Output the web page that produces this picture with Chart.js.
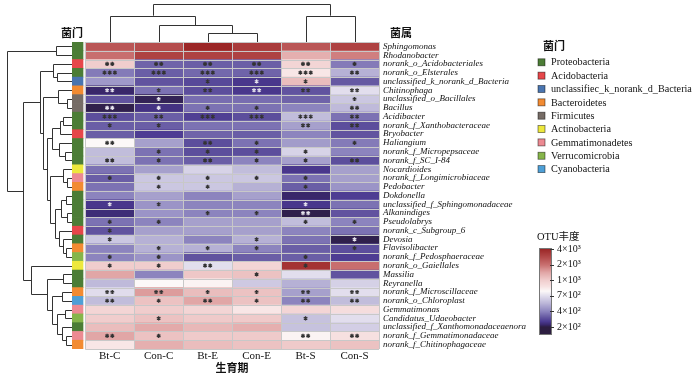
<!DOCTYPE html>
<html><head><meta charset="utf-8">
<script src="https://cdn.jsdelivr.net/npm/chart.js@4.4.0/dist/chart.umd.min.js"></script>
<style>html,body{margin:0;padding:0;background:#fff;}canvas{display:block;}</style>
</head><body>
<canvas id="c" width="700" height="376"></canvas>
<script>
// ---------- data ----------
const genera = ['Sphingomonas','Rhodanobacter','norank_o_Acidobacteriales','norank_o_Elsterales','unclassified_k_norank_d_Bacteria','Chitinophaga','unclassified_o_Bacillales','Bacillus','Acidibacter','norank_f_Xanthobacteraceae','Bryobacter','Haliangium','norank_f_Micropepsaceae','norank_f_SC_I-84','Nocardioides','norank_f_Longimicrobiaceae','Pedobacter','Dokdonella','unclassified_f_Sphingomonadaceae','Alkanindiges','Pseudolabrys','norank_c_Subgroup_6','Devosia','Flavisolibacter','norank_f_Pedosphaeraceae','norank_o_Gaiellales','Massilia','Reyranella','norank_f_Microscillaceae','norank_o_Chloroplast','Gemmatimonas','Candidatus_Udaeobacter','unclassified_f_Xanthomonadaceaenora','norank_f_Gemmatimonadaceae','norank_f_Chitinophagaceae'];
const phyla = ['Proteobacteria','Acidobacteria','unclassifiec_k_norank_d_Bacteria','Bacteroidetes','Firmicutes','Actinobacteria','Gemmatimonadetes','Verrucomicrobia','Cyanobacteria'];
const phylumColors = ['#4c7d36','#e6474a','#4a75b0','#f28b32','#766c66','#ede83d','#ec8a92','#86b54a','#4e9fd6'];
const rowPhylum = [0,0,1,0,2,3,4,4,0,0,1,0,0,0,5,6,3,0,0,0,0,1,0,3,7,5,0,0,3,8,6,7,0,6,3];
const columns = ['Bt-C','Con-C','Bt-E','Con-E','Bt-S','Con-S'];

const btC  = [2500,2000,1000,380,450,220,300,205,290,320,320,780,560,560,360,320,360,400,250,230,360,300,600,400,400,1000,1400,550,690,560,950,1000,1150,1400,850];
const conC = [2700,3000,330,320,300,360,210,240,320,320,260,470,360,360,470,600,600,470,440,440,400,470,520,520,440,1000,400,780,1500,1100,1000,1100,1350,1100,1300];
const btE  = [4000,3000,320,340,280,290,350,360,265,360,330,290,290,320,650,600,600,400,400,400,470,470,400,520,300,700,1050,800,1150,1400,950,1030,1200,1030,1150];
const conE = [3200,3000,320,330,250,250,350,360,290,360,320,360,290,400,560,600,520,470,400,400,470,470,520,400,320,950,1100,610,1100,1100,850,1030,1300,1030,1100];
const btS  = [2500,1300,950,850,1150,300,330,400,560,470,400,460,650,470,250,360,320,220,250,205,560,400,360,320,320,3500,700,520,470,400,950,580,580,800,1030];
const conS = [3000,1800,380,520,310,700,600,550,360,290,300,380,400,290,470,470,440,260,360,300,400,360,205,290,260,2000,300,640,700,560,900,700,630,880,1100];

const starsBtC  = ['','','**','***','','**','','**','***','*','','**','','**','','*','','','*','','*','*','*','','*','*','','','**','**','','','','**',''];
const starsConC = ['','','**','***','','*','*','*','**','*','','','*','*','','*','*','','*','','*','','','*','*','*','','','**','*','','*','','*',''];
const starsBtE  = ['','','**','***','*','**','','*','***','','','**','*','**','','*','*','','','*','','','','*','','**','','','*','**','','','','',''];
const starsConE = ['','','**','***','*','**','','*','***','','','*','*','*','','*','','','','*','','','*','*','','','*','','*','*','','','','',''];
const starsBtS  = ['','','**','***','*','**','','','***','**','','','*','*','','*','*','','*','**','*','','','','*','*','','','**','**','','*','','**',''];
const starsConS = ['','','*','**','','**','*','**','**','**','','*','','**','','','','','','','*','','*','*','','','','','**','**','','','','**',''];

const colorTicks = [4000,2000,1000,700,400,200];
const colorTickLabels = ['4×10³','2×10³','1×10³','7×10²','4×10²','2×10²'];

// dendrograms: [height, left, right], leaves are indices
const colTree = [37.7, [26.3, 0, [17, 1, [8.7, 2, 3]]], [26.3, 4, 5]];
const rowTree = [65, [16, 0, 1],
  [49,
    [32,
      [19, 2, [15, 3, 4]],
      [29,
        [14, 5, [5, 6, 7]],
        [25,
          [20, [12, [9, 8, 9], 10], [13, 11, [7, 12, 13]]],
          [22, [9, 14, [5, 15, 16]], [17, [11, [6, 17, 18], [5, 19, 20]], [13, 21, [9, 22, [6, 23, 24]]]]]
        ]
      ]
    ],
    [41, 25, [25, [9, 26, 27], [20, [10, 28, 29], [15, [7, 30, 31], [10, 32, [6, 33, 34]]]]]]
  ]
];

const values = [btC, conC, btE, conE, btS, conS];
const stars = [starsBtC, starsConC, starsBtE, starsConE, starsBtS, starsConS];

// ---------- colour scale ----------
const asc = colorTicks.slice().reverse();
function valueToP(v){
  if (v <= asc[0]) return Math.log(v/asc[0])/Math.log(asc[1]/asc[0]);
  for (let i=0;i<asc.length-1;i++){
    if (v <= asc[i+1]) return i + Math.log(v/asc[i])/Math.log(asc[i+1]/asc[i]);
  }
  const n = asc.length-1;
  return n + Math.log(v/asc[n])/Math.log(asc[n]/asc[n-1]);
}
const stops = [
  [0,[45,30,65]],[0.15,[58,40,110]],[0.35,[75,58,145]],[0.6,[98,85,160]],[1.0,[140,132,190]],
  [1.5,[185,180,215]],[2.0,[226,222,237]],[2.3,[252,248,248]],[2.6,[247,226,226]],[3.0,[240,205,205]],
  [3.5,[225,165,165]],[4.0,[200,110,110]],[4.5,[178,72,72]],[5.0,[155,38,38]]
];
function pToColor(p){
  if (p <= stops[0][0]) return 'rgb('+stops[0][1].join(',')+')';
  for (let i=0;i<stops.length-1;i++){
    const [p0,c0]=stops[i],[p1,c1]=stops[i+1];
    if (p <= p1){
      const t=(p-p0)/(p1-p0);
      return 'rgb('+c0.map((c,k)=>Math.round(c+(c1[k]-c)*t)).join(',')+')';
    }
  }
  return 'rgb('+stops[stops.length-1][1].join(',')+')';
}
const valueColor = v => pToColor(valueToP(v));

// ---------- datasets ----------
const SIDE_FROM = -0.27, SIDE_TO = -0.045;
const datasets = [{
  data: genera.map(()=>[SIDE_FROM, SIDE_TO]),
  backgroundColor: rowPhylum.map(k=>phylumColors[k])
}];
values.forEach((col,j)=>{
  datasets.push({ data: col.map(()=>[j, j+1]), backgroundColor: col.map(valueColor) });
});

const SERIF = '"Liberation Serif", "Times New Roman", serif';
const CJK = '"Noto Sans CJK SC", sans-serif';

const decor = {
  id:'decor',
  afterDatasetsDraw(chart){
    const {ctx, chartArea:ca, scales:{x,y}} = chart;
    const n = genera.length;
    const rowH = (ca.bottom-ca.top)/n;
    const x0 = x.getPixelForValue(0), xN = x.getPixelForValue(columns.length);
    ctx.save();
    // cell borders
    ctx.strokeStyle='#c8c8c8'; ctx.lineWidth=1;
    ctx.beginPath();
    for (let j=0;j<=columns.length;j++){ const px=Math.round(x.getPixelForValue(j))+0.5; ctx.moveTo(px,ca.top); ctx.lineTo(px,ca.bottom); }
    for (let i=0;i<=n;i++){ const py=Math.round(ca.top+i*rowH)+0.5; ctx.moveTo(x0,py); ctx.lineTo(xN,py); }
    ctx.stroke();
    // stars
    values.forEach((col,j)=>{
      const cx = x.getPixelForValue(j+0.5);
      col.forEach((v,i)=>{
        const s = stars[j][i]; if(!s) return;
        const cy = y.getPixelForValue(i);
        ctx.strokeStyle = v < 255 ? '#e6e4ee' : '#333';
        ctx.lineWidth = 1.25;
        const k = s.length, gap = 5.2;
        for (let m=0;m<k;m++){
          const sx = cx - (k-1)*gap/2 + m*gap, r=2.1;
          ctx.beginPath();
          for (let a=0;a<3;a++){
            const ang = Math.PI/2 + a*Math.PI/3;
            ctx.moveTo(sx+r*Math.cos(ang), cy+r*Math.sin(ang));
            ctx.lineTo(sx-r*Math.cos(ang), cy-r*Math.sin(ang));
          }
          ctx.stroke();
        }
      });
    });
    // dendrograms
    ctx.strokeStyle='#333'; ctx.lineWidth=1;
    const topBase = ca.top;
    function colLayout(node){
      if (typeof node==='number') return {p:x.getPixelForValue(node+0.5), h:0};
      const [h,a,b]=node; const A=colLayout(a), B=colLayout(b);
      ctx.beginPath();
      ctx.moveTo(Math.round(A.p)+0.5, topBase-A.h); ctx.lineTo(Math.round(A.p)+0.5, Math.round(topBase-h)+0.5);
      ctx.lineTo(Math.round(B.p)+0.5, Math.round(topBase-h)+0.5); ctx.lineTo(Math.round(B.p)+0.5, topBase-B.h);
      ctx.stroke();
      return {p:(A.p+B.p)/2, h};
    }
    colLayout(colTree);
    const leftBase = x.getPixelForValue(SIDE_FROM);
    function rowLayout(node){
      if (typeof node==='number') return {p:y.getPixelForValue(node), h:0};
      const [h,a,b]=node; const A=rowLayout(a), B=rowLayout(b);
      const xx = Math.round(leftBase-h)+0.5;
      ctx.beginPath();
      ctx.moveTo(leftBase-A.h, Math.round(A.p)+0.5); ctx.lineTo(xx, Math.round(A.p)+0.5);
      ctx.lineTo(xx, Math.round(B.p)+0.5); ctx.lineTo(leftBase-B.h, Math.round(B.p)+0.5);
      ctx.stroke();
      return {p:(A.p+B.p)/2, h};
    }
    rowLayout(rowTree);
    // headings
    ctx.fillStyle='#111'; ctx.textBaseline='middle';
    ctx.font='bold 11px '+CJK;
    ctx.textAlign='center';
    ctx.fillText('菌门', 72, 33);
    ctx.fillText('菌属', 401, 33);
    ctx.fillText('生育期', (x0+xN)/2, 368);
    // phylum legend
    ctx.textAlign='left';
    ctx.fillText('菌门', 543, 46);
    ctx.font='10.2px '+SERIF;
    phyla.forEach((name,k)=>{
      const yy = 62.3 + k*13.35;
      ctx.fillStyle = phylumColors[k];
      ctx.fillRect(538, yy-3.5, 7, 7);
      ctx.strokeStyle='rgba(0,0,0,0.55)'; ctx.lineWidth=0.8;
      ctx.strokeRect(538, yy-3.5, 7, 7);
      ctx.fillStyle='#111';
      ctx.fillText(name, 551, yy+0.5);
    });
    // colour bar
    ctx.font='10.5px '+SERIF+', '+CJK;
    ctx.fillText('OTU丰度', 537, 237);
    const barL=539, barR=552, pTop=249, pStep=15.6;
    const barTop=248, barBot=335;
    for (let py=barTop; py<barBot; py++){
      const p = 5 - (py+0.5-pTop)/pStep;
      ctx.fillStyle = pToColor(p);
      ctx.fillRect(barL, py, barR-barL, 1);
    }
    ctx.strokeStyle='#777'; ctx.lineWidth=1;
    ctx.strokeRect(barL+0.5, barTop+0.5, barR-barL-1, barBot-barTop-1);
    ctx.font='10px '+SERIF;
    ctx.fillStyle='#111';
    colorTicks.forEach((t,k)=>{
      const py = pTop + (5-valueToP(t))*pStep;
      ctx.beginPath(); ctx.strokeStyle='#333';
      ctx.moveTo(barR-2, Math.round(py)+0.5); ctx.lineTo(barR+2, Math.round(py)+0.5); ctx.stroke();
      ctx.fillText(colorTickLabels[k], 557, py);
    });
    ctx.restore();
  }
};

new Chart(document.getElementById('c'), {
  type:'bar',
  data:{ labels: genera, datasets },
  options:{
    indexAxis:'y',
    responsive:false,
    animation:false,
    devicePixelRatio:1,
    layout:{ padding:{ left:72, top:42, right:0, bottom:0 } },
    datasets:{ bar:{ grouped:false, barPercentage:1, categoryPercentage:1, borderWidth:0 } },
    plugins:{ legend:{display:false}, tooltip:{enabled:false}, title:{display:false} },
    scales:{
      x:{
        type:'linear', min:SIDE_FROM, max:columns.length,
        grid:{display:false, drawTicks:false}, border:{display:false},
        afterBuildTicks:(s)=>{ s.ticks = columns.map((_,i)=>({value:i+0.5})); },
        afterFit:(s)=>{ s.height = 27; },
        ticks:{ autoSkip:false, maxRotation:0, padding:1, color:'#111',
          font:{ family:SERIF, size:11 },
          callback:(v)=>columns[Math.floor(v)] }
      },
      y:{
        type:'category', position:'right',
        grid:{display:false, drawTicks:false}, border:{display:false},
        afterFit:(s)=>{ s.width = 321; },
        ticks:{ autoSkip:false, padding:4, color:'#111',
          font:{ family:SERIF, style:'italic', size:9 } }
      }
    }
  },
  plugins:[decor]
});
</script>
</body></html>
